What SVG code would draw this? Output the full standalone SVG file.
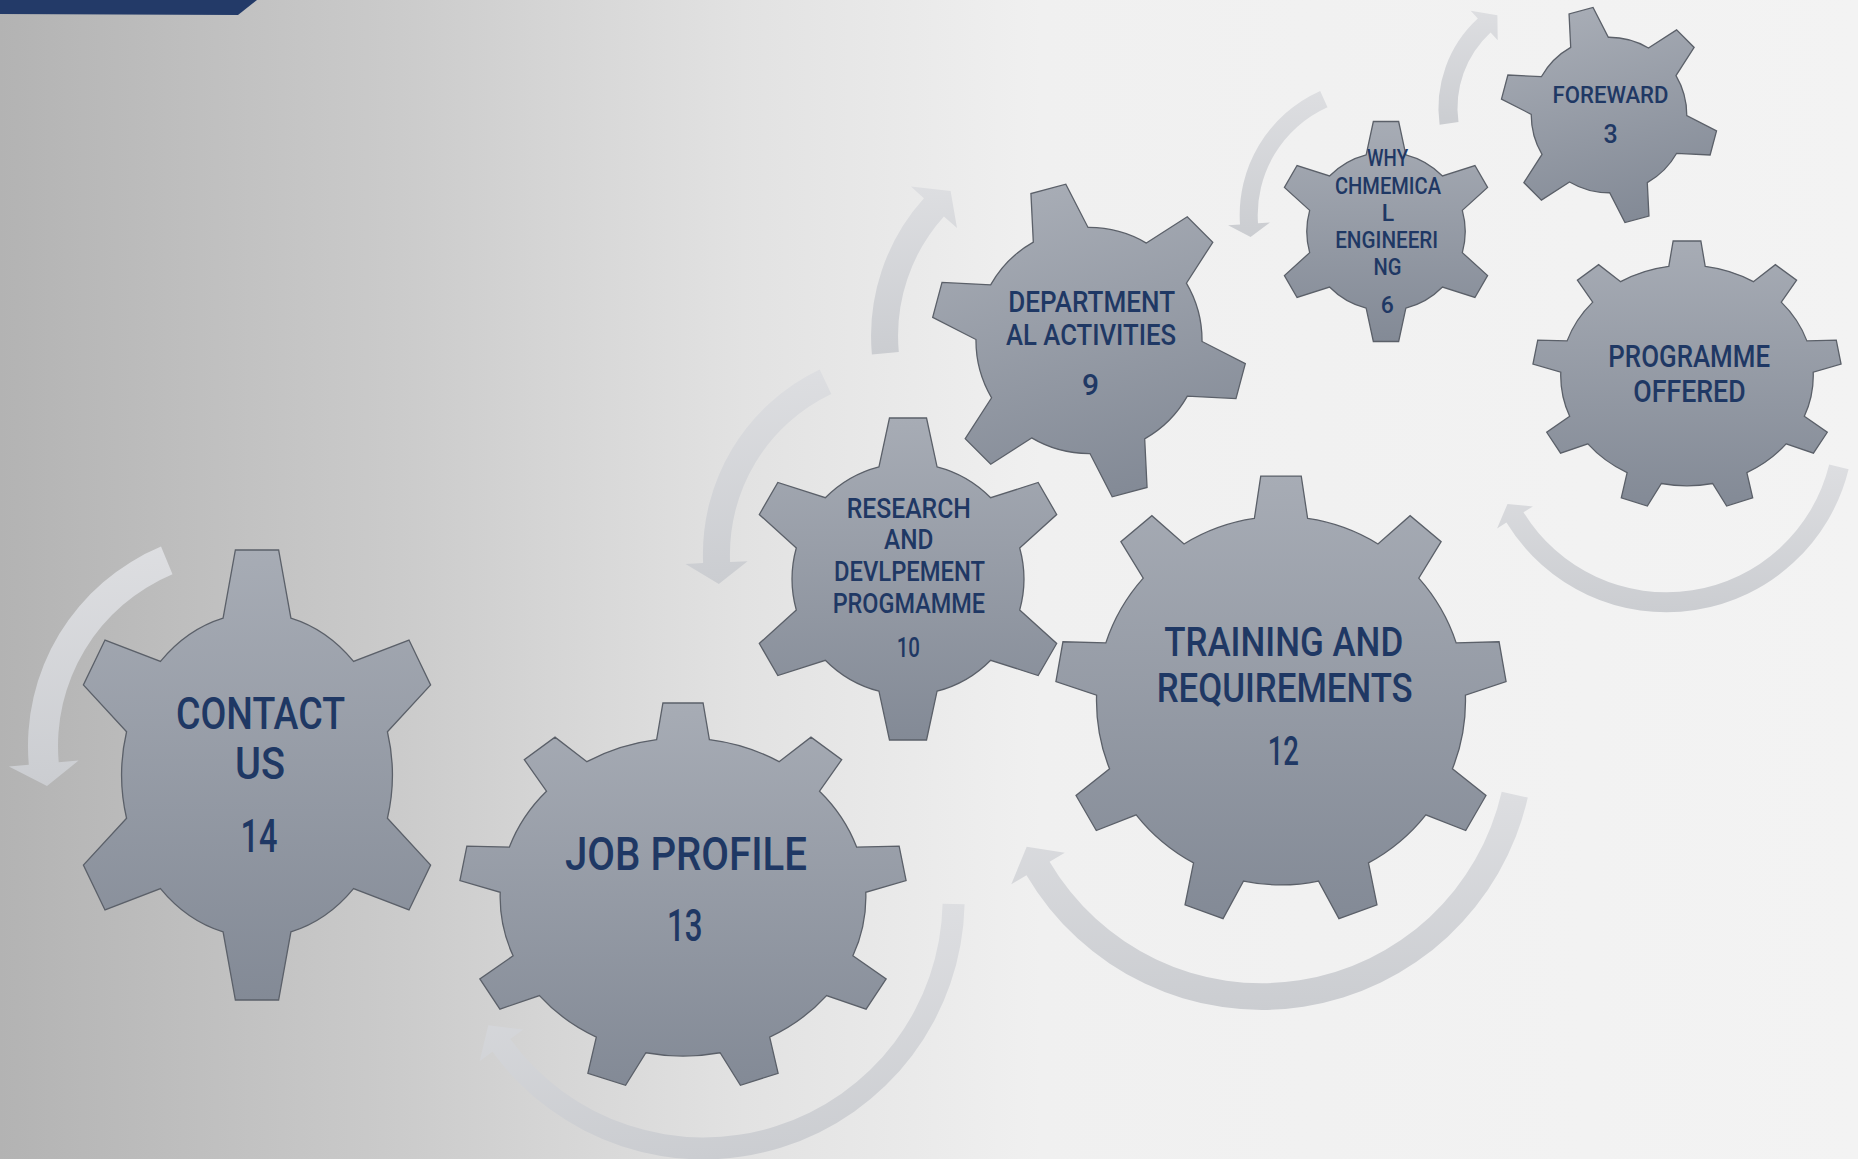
<svg xmlns="http://www.w3.org/2000/svg" xmlns:xlink="http://www.w3.org/1999/xlink" width="1858" height="1159" viewBox="0 0 1858 1159">
<style>
.edge{fill:url(#gearFill);stroke:#5b6069;stroke-width:1.3}
.arrow{fill:url(#arrowFill);stroke:none}
.lbl{font-family:Roboto,"Liberation Sans","DejaVu Sans",sans-serif;font-weight:500;fill:#1f3864;text-anchor:middle}
</style>
<defs>
<linearGradient id="bg" x1="0" y1="0" x2="1858" y2="0" gradientUnits="userSpaceOnUse">
<stop offset="0" stop-color="#b3b3b3"/>
<stop offset="0.215" stop-color="#cbcbcb"/>
<stop offset="0.4" stop-color="#e2e2e2"/>
<stop offset="0.56" stop-color="#f0f0f0"/>
<stop offset="1" stop-color="#f3f3f3"/>
</linearGradient>
<linearGradient id="gearFill" x1="0" y1="0" x2="0" y2="1">
<stop offset="0" stop-color="#a7acb5"/>
<stop offset="1" stop-color="#838a96"/>
</linearGradient>
<linearGradient id="arrowFill" x1="0" y1="0" x2="0" y2="1">
<stop offset="0" stop-color="#dddee1"/>
<stop offset="1" stop-color="#cbcdd1"/>
</linearGradient>
<path id="gear6" vector-effect="non-scaling-stroke" d="M-0.1804,-0.697 L-0.115,-1 L0.115,-1 L0.1804,-0.697 A0.72,0.72 0 0 1 0.5134,-0.5047 L0.8085,-0.5996 L0.9235,-0.4004 L0.6938,-0.1923 A0.72,0.72 0 0 1 0.6938,0.1923 L0.9235,0.4004 L0.8085,0.5996 L0.5134,0.5047 A0.72,0.72 0 0 1 0.1804,0.697 L0.115,1 L-0.115,1 L-0.1804,0.697 A0.72,0.72 0 0 1 -0.5134,0.5047 L-0.8085,0.5996 L-0.9235,0.4004 L-0.6938,0.1923 A0.72,0.72 0 0 1 -0.6938,-0.1923 L-0.9235,-0.4004 L-0.8085,-0.5996 L-0.5134,-0.5047 A0.72,0.72 0 0 1 -0.1804,-0.697 Z"/>
<path id="gear9" vector-effect="non-scaling-stroke" d="M-0.1183,-0.8114 L-0.09,-1 L0.09,-1 L0.1183,-0.8114 A0.82,0.82 0 0 1 0.4309,-0.6976 L0.5739,-0.8239 L0.7117,-0.7082 L0.6122,-0.5455 A0.82,0.82 0 0 1 0.7785,-0.2574 L0.9692,-0.2623 L1.0004,-0.085 L0.8196,-0.0244 A0.82,0.82 0 0 1 0.7619,0.3033 L0.911,0.4221 L0.821,0.5779 L0.6436,0.5082 A0.82,0.82 0 0 1 0.3887,0.722 L0.4266,0.9089 L0.2575,0.9705 L0.1664,0.8029 A0.82,0.82 0 0 1 -0.1664,0.8029 L-0.2575,0.9705 L-0.4266,0.9089 L-0.3887,0.722 A0.82,0.82 0 0 1 -0.6436,0.5082 L-0.821,0.5779 L-0.911,0.4221 L-0.7619,0.3033 A0.82,0.82 0 0 1 -0.8196,-0.0244 L-1.0004,-0.085 L-0.9692,-0.2623 L-0.7785,-0.2574 A0.82,0.82 0 0 1 -0.6122,-0.5455 L-0.7117,-0.7082 L-0.5739,-0.8239 L-0.4309,-0.6976 A0.82,0.82 0 0 1 -0.1183,-0.8114 Z"/>
</defs>

<rect x="0" y="0" width="1858" height="1159" fill="url(#bg)"/>
<polygon points="0,0 257,0 238,15 0,14" fill="#233a68"/>

<g id="connectors">
<path class="arrow" d="M1439.6,124.7 A121.5,121.5 0 0 1 1477.8,18.6 L1470.7,10.8 L1497.4,15.2 L1497.7,40.3 L1490.6,32.5 A102.5,102.5 0 0 0 1458.5,122.1 Z"/>
<path class="arrow" d="M1320.2,90.9 A136,136 0 0 0 1240.0,224.5 L1228.1,225.3 L1250.6,237.1 L1270.0,222.4 L1258.0,223.2 A118,118 0 0 1 1327.5,107.3 Z"/>
<path class="arrow" d="M871.9,354.4 A205.5,205.5 0 0 1 923.9,198.3 L910.9,186.6 L950.6,190.9 L957.0,228.1 L943.9,216.4 A178.5,178.5 0 0 0 898.8,352.0 Z"/>
<path class="arrow" d="M819.7,369.5 A204.5,204.5 0 0 0 703.1,563.1 L685.6,563.9 L718.8,584.1 L747.6,561.2 L730.1,561.9 A177.5,177.5 0 0 1 831.3,393.9 Z"/>
<path class="arrow" d="M161.0,546.6 A216,216 0 0 0 28.8,764.8 L8.9,766.6 L47.0,786.1 L78.6,760.5 L58.7,762.2 A186,186 0 0 1 172.5,574.3 Z"/>
<path class="arrow" d="M964.6,904.3 A261,261 0 0 1 492.5,1051.8 L479.6,1061.2 L488.3,1025.3 L523.3,1029.5 L510.3,1038.9 A239,239 0 0 0 942.6,903.8 Z"/>
<path class="arrow" d="M1527.8,797.6 A272.8,272.8 0 0 1 1026.5,875.2 L1011.3,884.2 L1026.7,846.8 L1064.8,852.8 L1049.6,861.7 A246,246 0 0 0 1501.7,791.7 Z"/>
<path class="arrow" d="M1848.6,469.3 A187.6,187.6 0 0 1 1506.4,522.6 L1497.1,528.4 L1507.5,503.9 L1532.9,506.4 L1523.5,512.2 A167.6,167.6 0 0 0 1829.2,464.6 Z"/>
</g>

<g id="node-foreward">
<use xlink:href="#gear6" href="#gear6" class="edge" transform="translate(1609,115) rotate(-15) scale(108)"/>
<text class="lbl" x="1610.5" y="103.3" font-size="24.5" textLength="116" lengthAdjust="spacingAndGlyphs">FOREWARD</text>
<text class="lbl" x="1610.5" y="143.3" font-size="25">3</text>
</g>

<g id="node-why">
<use xlink:href="#gear6" href="#gear6" class="edge" transform="translate(1386,231.5) scale(110)"/>
<text class="lbl" x="1387.6" y="165.7" font-size="23" textLength="41" lengthAdjust="spacingAndGlyphs">WHY</text>
<text class="lbl" x="1388" y="194.3" font-size="23" textLength="106" lengthAdjust="spacingAndGlyphs">CHMEMICA</text>
<text class="lbl" x="1388" y="221" font-size="23">L</text>
<text class="lbl" x="1386.7" y="248.3" font-size="23" textLength="103" lengthAdjust="spacingAndGlyphs">ENGINEERI</text>
<text class="lbl" x="1387.4" y="275" font-size="23" textLength="28" lengthAdjust="spacingAndGlyphs">NG</text>
<text class="lbl" x="1387.2" y="313.3" font-size="23">6</text>
</g>

<g id="node-programme">
<use xlink:href="#gear9" href="#gear9" class="edge" transform="translate(1687,375.5) scale(154,134.5)"/>
<text class="lbl" x="1689.2" y="366.7" font-size="31" textLength="161.7" lengthAdjust="spacingAndGlyphs">PROGRAMME</text>
<text class="lbl" x="1689.5" y="401.7" font-size="31" textLength="112.3" lengthAdjust="spacingAndGlyphs">OFFERED</text>
</g>

<g id="node-departmental">
<use xlink:href="#gear6" href="#gear6" class="edge" transform="translate(1089,340.5) rotate(-15) scale(157)"/>
<text class="lbl" x="1091.7" y="311.7" font-size="30" textLength="166.7" lengthAdjust="spacingAndGlyphs">DEPARTMENT</text>
<text class="lbl" x="1091" y="345" font-size="30" textLength="170" lengthAdjust="spacingAndGlyphs">AL ACTIVITIES</text>
<text class="lbl" x="1090.5" y="395" font-size="30">9</text>
</g>

<g id="node-research">
<use xlink:href="#gear6" href="#gear6" class="edge" transform="translate(908,579) scale(161)"/>
<text class="lbl" x="908.8" y="518.3" font-size="27.5" textLength="124.3" lengthAdjust="spacingAndGlyphs">RESEARCH</text>
<text class="lbl" x="908.7" y="549.3" font-size="27.5" textLength="49.3" lengthAdjust="spacingAndGlyphs">AND</text>
<text class="lbl" x="909.5" y="580.7" font-size="27.5" textLength="151" lengthAdjust="spacingAndGlyphs">DEVLPEMENT</text>
<text class="lbl" x="908.8" y="612.7" font-size="27.5" textLength="152.3" lengthAdjust="spacingAndGlyphs">PROGMAMME</text>
<text class="lbl" x="908.3" y="657.3" font-size="27.5" textLength="23.3" lengthAdjust="spacingAndGlyphs">10</text>
</g>

<g id="node-training">
<use xlink:href="#gear9" href="#gear9" class="edge" transform="translate(1281,700.7) scale(225,224.6)"/>
<text class="lbl" x="1283.7" y="655.7" font-size="41.5" textLength="239" lengthAdjust="spacingAndGlyphs">TRAINING AND</text>
<text class="lbl" x="1284.7" y="701.8" font-size="41.5" textLength="256" lengthAdjust="spacingAndGlyphs">REQUIREMENTS</text>
<text class="lbl" x="1283.3" y="765.4" font-size="41.5" textLength="31.3" lengthAdjust="spacingAndGlyphs">12</text>
</g>

<g id="node-job">
<use xlink:href="#gear9" href="#gear9" class="edge" transform="translate(683,897) scale(223,194)"/>
<text class="lbl" x="686" y="870" font-size="46" textLength="242" lengthAdjust="spacingAndGlyphs">JOB PROFILE</text>
<text class="lbl" x="684.7" y="940.7" font-size="44" textLength="35.5" lengthAdjust="spacingAndGlyphs">13</text>
</g>

<g id="node-contact">
<use xlink:href="#gear6" href="#gear6" class="edge" transform="translate(257,775) scale(188,225)"/>
<text class="lbl" x="260.5" y="729" font-size="45" textLength="169" lengthAdjust="spacingAndGlyphs">CONTACT</text>
<text class="lbl" x="260" y="779.3" font-size="45" textLength="50" lengthAdjust="spacingAndGlyphs">US</text>
<text class="lbl" x="259" y="851.7" font-size="46" textLength="37" lengthAdjust="spacingAndGlyphs">14</text>
</g>
</svg>
